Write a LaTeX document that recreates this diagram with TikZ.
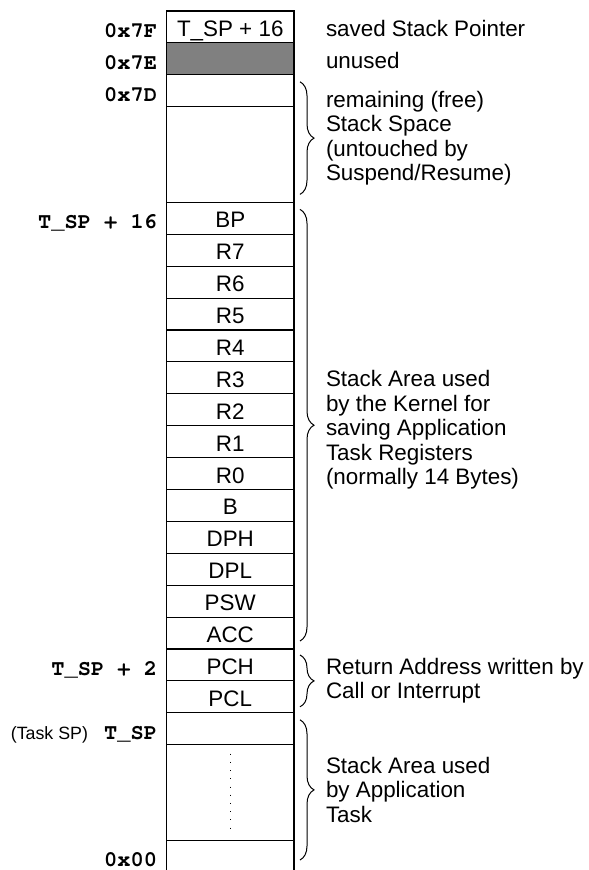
\documentclass[tikz,border=0pt]{standalone}
\usepackage{fontspec}
\setmainfont{Liberation Sans}
\setmonofont{TeX Gyre Cursor}
\usetikzlibrary{decorations.pathreplacing,calc}

\begin{document}
\begin{tikzpicture}[x=0.5pt,y=-0.5pt,
  every node/.style={inner sep=0pt, outer sep=0pt},
  cell/.style={draw, line width=0.55pt, anchor=north west,
    minimum width=63.75pt, minimum height=15.95pt,
    font=\fontsize{11.2}{12}\selectfont, text height=9.5pt, text depth=0pt},
  bigcell/.style={cell, minimum height=47.85pt},
  addr/.style={anchor=base east, font=\fontsize{11}{12}\selectfont\ttfamily\bfseries},
  note/.style={anchor=west, align=left, font=\fontsize{11.2}{12.25}\selectfont},
  brace/.style={decorate, line width=0.5pt,
    decoration={brace, amplitude=7pt, aspect=0.5}},
]
\useasboundingbox (0,0) rectangle (588,870);

% memory cells, top to bottom (row pitch 31.9)
\node[cell] (c7F) at (166.5,11.0) {T\_SP + 16};
\node[cell, fill=black!50] (c7E) at (166.5,42.9) {};
\node[cell] (c7D) at (166.5,74.8) {};
\node[bigcell] (free) at (166.5,106.7) {};
\node[cell] (bp)  at (166.5,202.4) {BP};
\node[cell] (r7)  at (166.5,234.3) {R7};
\node[cell] (r6)  at (166.5,266.2) {R6};
\node[cell] (r5)  at (166.5,298.1) {R5};
\node[cell] (r4)  at (166.5,330.0) {R4};
\node[cell] (r3)  at (166.5,361.9) {R3};
\node[cell] (r2)  at (166.5,393.8) {R2};
\node[cell] (r1)  at (166.5,425.7) {R1};
\node[cell] (r0)  at (166.5,457.6) {R0};
\node[cell] (b)   at (166.5,489.5) {B};
\node[cell] (dph) at (166.5,521.4) {DPH};
\node[cell] (dpl) at (166.5,553.3) {DPL};
\node[cell] (psw) at (166.5,585.2) {PSW};
\node[cell] (acc) at (166.5,617.1) {ACC};
\node[cell] (pch) at (166.5,649.0) {PCH};
\node[cell] (pcl) at (166.5,680.9) {PCL};
\node[cell] (tsp) at (166.5,712.8) {};
\node[bigcell] (app) at (166.5,744.7) {};
% bottom cell, open at the lower edge
\node[cell, draw=none] (c00) at (166.5,840.6) {};
\draw[line width=0.55pt] (c00.south west) -- (c00.north west) -- (c00.north east) -- (c00.south east);
\draw[line width=0.55pt, dash pattern=on 0.5pt off 3.6pt] ($(app.north)+(0,9)$) -- ($(app.south)+(0,-9)$);

% addresses
\node[addr] (a7F) at (157,37.3) {0x7F};
\node[addr] (a7E) at (157,69.2) {0x7E};
\node[addr] (a7D) at (157,101.1) {0x7D};
\node[addr] (a16) at (157,228.6) {T\_SP + 16};
\node[addr] (a2)  at (157,675.2) {T\_SP + 2};
\node[addr] (a0)  at (157,739.0) {T\_SP};
\node[anchor=base east, font=\fontsize{8.9}{10}\selectfont] (tasksp) at (88,739.0) {(Task SP)};
\node[addr] (a00) at (157,866.5) {0x00};

% descriptions
\node[anchor=base west, font=\fontsize{11.2}{12}\selectfont] (d7F) at (326,36.5) {saved Stack Pointer};
\node[anchor=base west, font=\fontsize{11.2}{12}\selectfont] (d7E) at (326,68.4) {unused};

\draw[brace] ($(c7D.north east)+(6,7)$) -- coordinate[pos=0.5] (t1) ($(free.south east)+(6,-8)$);
\draw[brace] ($(bp.north east)+(6,7)$) -- coordinate[pos=0.5] (t2) ($(acc.south east)+(6,-8)$);
\draw[brace] ($(pch.north east)+(6,6)$) -- coordinate[pos=0.5] (t3) ($(pcl.south east)+(6,-6)$);
\draw[brace] ($(tsp.north east)+(6,7)$) -- coordinate[pos=0.5] (t4) (300,860);

\node[note] (dfree) at ($(t1)+(26,0)$) {remaining (free)\\Stack Space\\(untouched by\\Suspend/Resume)};
\node[note] (dkern) at ($(t2)+(26,5)$) {Stack Area used\\by the Kernel for\\saving Application\\Task Registers\\(normally 14 Bytes)};
\node[note] (dret)  at ($(t3)+(26,0)$) {Return Address written by\\Call or Interrupt};
\node[note] (dapp)  at ($(t4)+(26,0)$) {Stack Area used\\by Application\\Task};
\end{tikzpicture}
\end{document}
